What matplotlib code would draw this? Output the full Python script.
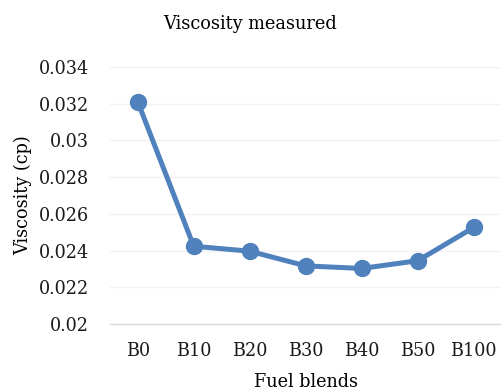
import matplotlib.pyplot as plt

blends = ["B0", "B10", "B20", "B30", "B40", "B50", "B100"]
viscosity = [0.03211, 0.02424, 0.02397, 0.02317, 0.02303, 0.02345, 0.02526]
y_ticks = [0.02, 0.022, 0.024, 0.026, 0.028, 0.03, 0.032, 0.034]
y_tick_labels = ["0.02", "0.022", "0.024", "0.026", "0.028", "0.03", "0.032", "0.034"]

plt.rcParams["font.family"] = ["DejaVu Serif"]

fig = plt.figure(figsize=(5.01, 3.92), dpi=100)
ax = fig.add_axes([0.219, 0.1732, 0.7824, 0.656])

x = list(range(len(blends)))
ax.plot(x, viscosity, color="#4F81BD", linewidth=3.6, marker="o",
        markersize=11.5, solid_capstyle="round", zorder=3)

ax.set_xlim(-0.5, len(blends) - 0.5)
ax.set_ylim(0.02, 0.034)
ax.set_xticks(x)
ax.set_xticklabels(blends)
ax.set_yticks(y_ticks)
ax.set_yticklabels(y_tick_labels)
ax.tick_params(axis="both", length=0, labelsize=12.7, colors="#1a1a1a")
ax.tick_params(axis="y", pad=15)
ax.tick_params(axis="x", pad=13)

ax.grid(axis="y", color="#F2F2F2", linewidth=1)
ax.set_axisbelow(True)
for side in ["left", "right", "top"]:
    ax.spines[side].set_visible(False)
ax.spines["bottom"].set_color("#D9D9D9")
ax.spines["bottom"].set_linewidth(1)

ax.set_xlabel("Fuel blends", fontsize=12.7, labelpad=9)
ax.set_ylabel("Viscosity (cp)", fontsize=12.7, labelpad=5)
fig.text(0.5, 0.94, "Viscosity measured", ha="center", va="center", fontsize=12.8)

fig.savefig("out.png", dpi=100)
